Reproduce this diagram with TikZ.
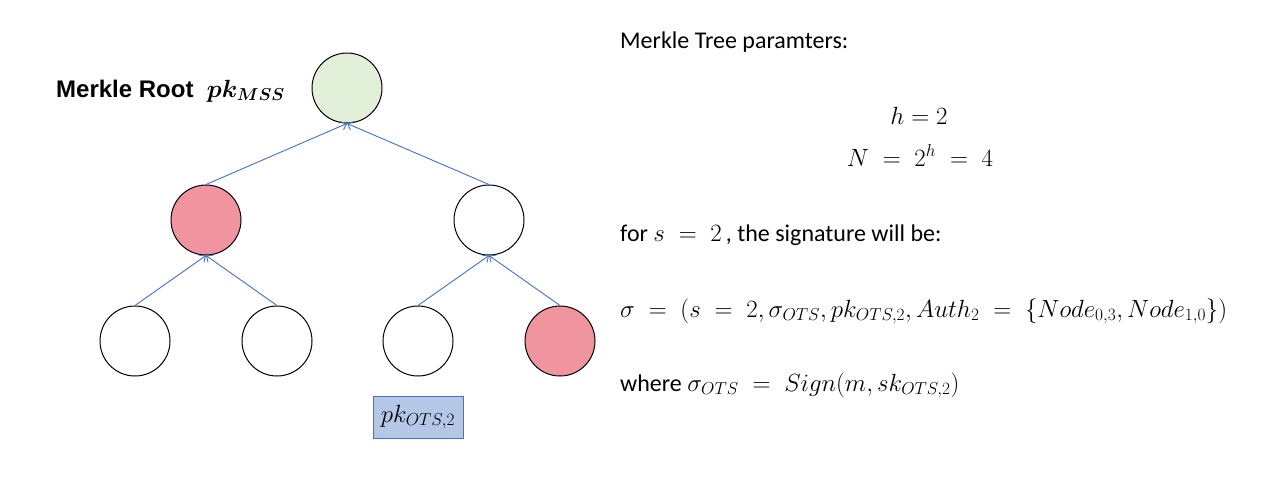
\documentclass[tikz,border=0pt]{standalone}
\usepackage{amsmath}
\usepackage{bm}
\usepackage{fontspec}
\setmainfont{Carlito}
\newfontfamily\arialfont{Liberation Sans}
\usetikzlibrary{arrows.meta}
\definecolor{rootgreen}{HTML}{E2F0D9}
\definecolor{authred}{HTML}{F0959F}
\definecolor{linkblue}{HTML}{4472C4}
\definecolor{boxblue}{HTML}{B4C7E7}
\begin{document}
\begin{tikzpicture}[x=1pt,y=-1pt,
  tnode/.style={circle,draw=black,line width=1pt,minimum size=70pt,inner sep=0pt,fill=white},
  link/.style={draw=linkblue,line width=0.9pt,-{Straight Barb[length=5pt,width=9pt]}},
  txt/.style={anchor=base west,inner sep=0pt,font=\fontsize{24}{28}\selectfont},
  eq/.style={anchor=base,inner sep=0pt,font=\fontsize{24}{28}\selectfont}]
\useasboundingbox[fill=white] (0,0) rectangle (1280,483);
% tree
\node[tnode,fill=rootgreen] (root) at (347,88) {};
\node[tnode,fill=authred] (l) at (206,220) {};
\node[tnode] (r) at (489,220) {};
\node[tnode] (ll) at (135,341) {};
\node[tnode] (lr) at (277,341) {};
\node[tnode] (rl) at (418,341) {};
\node[tnode,fill=authred] (rr) at (560,341) {};
\draw[link] (l.north) -- (root.south);
\draw[link] (r.north) -- (root.south);
\draw[link] (ll.north) -- (l.south);
\draw[link] (lr.north) -- (l.south);
\draw[link] (rl.north) -- (r.south);
\draw[link] (rr.north) -- (r.south);
\node[draw=linkblue,fill=boxblue,line width=1pt,minimum width=90pt,minimum height=42pt,inner sep=0pt,font=\fontsize{24}{28}\selectfont] (pk) at (418,417) {$pk_{OTS,2}$};
\node[anchor=base west,inner sep=0pt,font=\arialfont\bfseries\fontsize{24}{28}\selectfont] (mr) at (56,97) {Merkle Root\ \ {\fontsize{23}{27}\selectfont$\bm{pk_{MSS}}$}};
% right text
\node[txt] (t1) at (620,48) {Merkle Tree paramters:};
\node[eq] (t2) at (919,124) {$h = 2$};
\node[eq] (t3) at (920,166) {$N \;=\; 2^{h} \;=\; 4$};
\node[txt] (t4) at (620,241) {for $s \;=\; 2$\,, the signature will be:};
\node[txt] (t5) at (620,317) {$\sigma \;=\; (s \;=\; 2, \sigma_{OTS}, pk_{OTS,2}, Auth_2 \;=\; \{Node_{0,3}, Node_{1,0}\})$};
\node[txt] (t6) at (620,391) {where $\sigma_{OTS} \;=\; Sign(m, sk_{OTS,2})$};
\end{tikzpicture}
\end{document}
